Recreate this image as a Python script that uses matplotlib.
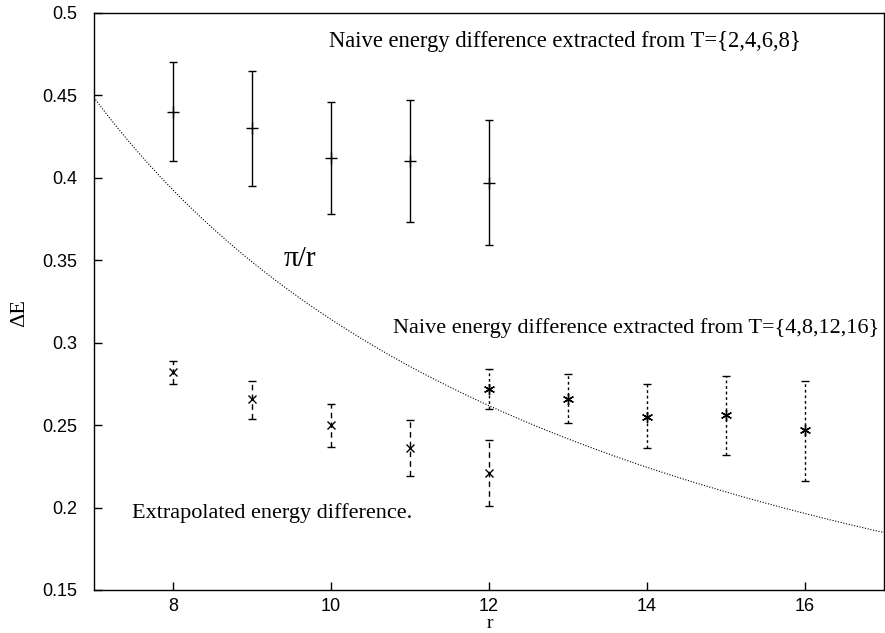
import numpy as np
import matplotlib
matplotlib.use("Agg")
import matplotlib.pyplot as plt

# Naive energy difference, T={2,4,6,8}
r_naive1 = [8, 9, 10, 11, 12]
e_naive1 = [0.440, 0.430, 0.412, 0.410, 0.397]
lo_naive1 = [0.410, 0.395, 0.378, 0.373, 0.359]
hi_naive1 = [0.470, 0.465, 0.446, 0.447, 0.435]

# Extrapolated energy difference
r_extr = [8, 9, 10, 11, 12]
e_extr = [0.282, 0.266, 0.250, 0.236, 0.221]
lo_extr = [0.275, 0.254, 0.237, 0.219, 0.201]
hi_extr = [0.289, 0.277, 0.263, 0.253, 0.241]

# Naive energy difference, T={4,8,12,16}
r_naive2 = [12, 13, 14, 15, 16]
e_naive2 = [0.272, 0.266, 0.255, 0.256, 0.247]
lo_naive2 = [0.260, 0.251, 0.236, 0.232, 0.216]
hi_naive2 = [0.284, 0.281, 0.275, 0.280, 0.277]

xticks = [8, 10, 12, 14, 16]
yticks = [0.15, 0.2, 0.25, 0.3, 0.35, 0.4, 0.45, 0.5]
ytick_labels = ["0.15", "0.2", "0.25", "0.3", "0.35", "0.4", "0.45", "0.5"]

serif = ["Liberation Serif", "DejaVu Serif"]
sans = ["Liberation Sans", "DejaVu Sans"]

fig = plt.figure(figsize=(8.85, 6.33), dpi=100)
ax = fig.add_axes([0.106, 0.068, 0.893, 0.9115])

def errs(e, lo, hi):
    e = np.array(e); lo = np.array(lo); hi = np.array(hi)
    return [e - lo, hi - e]

# pi/r curve
rc = np.linspace(7, 17, 300)
ax.plot(rc, np.pi / rc, color="black", lw=0.8, ls=(0, (1, 1.5)))

def draw(r, e, lo, hi, marker, ls, ms):
    cont = ax.errorbar(r, e, yerr=errs(e, lo, hi), fmt="none", ecolor="black",
                       elinewidth=1.0, capsize=3, capthick=1.0)
    for lc in cont[2]:
        lc.set_linestyle(ls)
    ax.plot(r, e, ls="none", marker=marker, color="black", ms=ms, mew=1.0)

draw(r_naive1, e_naive1, lo_naive1, hi_naive1, "+", "-", 8)
draw(r_extr, e_extr, lo_extr, hi_extr, "x", (0, (4, 3)), 6)
draw(r_naive2, e_naive2, lo_naive2, hi_naive2, (6, 2, 0), (0, (2, 2)), 8)

ax.set_xlim(7, 17)
ax.set_ylim(0.15, 0.5)
ax.set_xticks(xticks)
ax.set_yticks(yticks)
ax.set_yticklabels(ytick_labels)
for lab in ax.get_xticklabels() + ax.get_yticklabels():
    lab.set_family(sans)
    lab.set_fontsize(13)
ax.tick_params(direction="in", length=6, width=1)
ax.tick_params(axis="y", pad=12)
ax.tick_params(axis="x", pad=6)
for s in ax.spines.values():
    s.set_linewidth(1.0)

fig.text(0.554, 0.001, "r", family=serif, fontsize=14, ha="center", va="bottom")
fig.text(0.022, 0.505, "ΔE", family=serif, fontsize=16, ha="center", va="center",
         rotation=90)

ax.text(9.98, 0.483, "Naive energy difference extracted from T={2,4,6,8}",
        family=serif, fontsize=16.3, va="center", ha="left")
ax.text(10.78, 0.309, "Naive energy difference extracted from T={4,8,12,16}",
        family=serif, fontsize=16, va="center", ha="left")
ax.text(7.48, 0.1965, "Extrapolated energy difference.",
        family=serif, fontsize=16, va="center", ha="left")
ax.text(9.4, 0.351, "π/r", family=serif, fontsize=21, va="center", ha="left")

fig.savefig("out.png", dpi=100)
